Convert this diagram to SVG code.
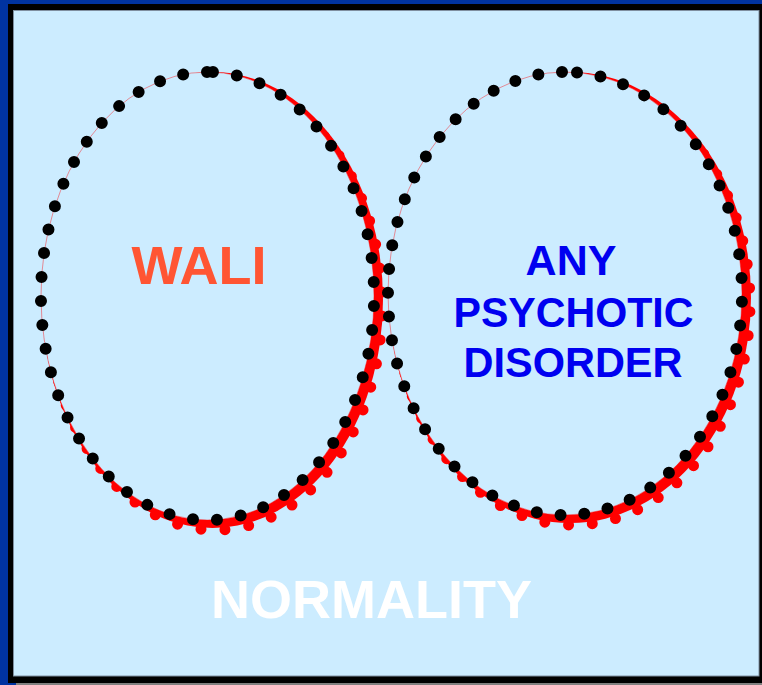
<svg xmlns="http://www.w3.org/2000/svg" width="762" height="685" viewBox="0 0 762 685">
<style>
  .dots { fill: none; stroke: #000; stroke-width: 12; stroke-linecap: round; stroke-dasharray: 0 1; }
  .rdots { fill: none; stroke: #ff0000; stroke-width: 11; stroke-linecap: round; stroke-dasharray: 0 1; }
  .thin { fill: none; stroke: #ff0000; stroke-width: 0.7; stroke-opacity: 0.6; }
  .band { fill: #ff0000; }
  .lbl { font-family: "Liberation Sans", Arial, sans-serif; font-weight: bold; text-anchor: middle; }
</style>
<defs>
  <mask id="mL" maskUnits="userSpaceOnUse" x="0" y="0" width="762" height="685">
    <rect x="0" y="0" width="762" height="685" fill="#fff"/>
    <ellipse cx="207.5" cy="296" rx="166.5" ry="224" fill="#000"/>
  </mask>
  <mask id="mR" maskUnits="userSpaceOnUse" x="0" y="0" width="762" height="685">
    <rect x="0" y="0" width="762" height="685" fill="#fff"/>
    <ellipse cx="565" cy="293.5" rx="177" ry="221.5" fill="#000"/>
  </mask>
</defs>
<g id="frame">
  <rect x="0" y="0" width="762" height="685" fill="#0033a0"/>
  <rect x="8" y="4" width="754" height="679" fill="#000"/>
  <rect x="16" y="683" width="746" height="2" fill="#808080"/>
  <rect x="13.5" y="10.5" width="745.5" height="665.5" fill="#ccecff" stroke="#7f8fa0" stroke-width="1"/>
</g>
<g id="shadows">
  <g mask="url(#mL)">
    <ellipse class="band" cx="212.5" cy="300" rx="170.5" ry="228"/>
    <path class="rdots" transform="translate(8,10)" pathLength="51.25" d="M207 72 A166.5 224 0 1 0 208 520 A166.5 224 0 1 0 207 72 Z"/>
  </g>
  <g mask="url(#mR)">
    <ellipse class="band" cx="570" cy="297.5" rx="181" ry="225.5"/>
    <path class="rdots" transform="translate(8,10)" pathLength="52.63" d="M562 72.03 A177 221.5 0 1 0 568 514.97 A177 221.5 0 1 0 562 72.03 Z"/>
  </g>
  <ellipse class="thin" cx="207.5" cy="296" rx="166.5" ry="224"/>
  <ellipse class="thin" cx="565" cy="293.5" rx="177" ry="221.5"/>
</g>
<g id="wali">
  <path class="dots" pathLength="51.25" d="M207 72 A166.5 224 0 1 0 208 520 A166.5 224 0 1 0 207 72 Z"/>
  <text class="lbl" x="199" y="284" font-size="54" fill="#ff5533">WALI</text>
</g>
<g id="psychotic">
  <path class="dots" pathLength="52.63" d="M562 72.03 A177 221.5 0 1 0 568 514.97 A177 221.5 0 1 0 562 72.03 Z"/>
  <text class="lbl" font-size="43" fill="#0000f0"><tspan x="571" y="275">ANY</tspan></text>
  <text class="lbl" font-size="43" fill="#0000f0" x="573.5" y="326.5" textLength="240" lengthAdjust="spacingAndGlyphs">PSYCHOTIC</text>
  <text class="lbl" font-size="43" fill="#0000f0" x="573" y="376.5" textLength="219" lengthAdjust="spacingAndGlyphs">DISORDER</text>
</g>
<g id="normality">
  <text class="lbl" x="371.5" y="618" font-size="54" fill="#ffffff">NORMALITY</text>
</g>
<g id="connectors"/>
</svg>
